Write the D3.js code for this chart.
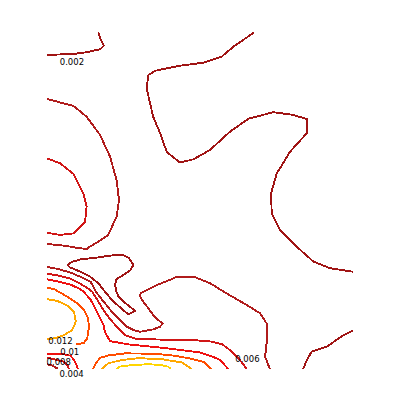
<!DOCTYPE html>
<html>
<head>
<meta charset="utf-8">
<script src="https://cdn.jsdelivr.net/npm/d3@7"></script>
<style>
  html, body { margin: 0; padding: 0; background: #fff; }
  svg { display: block; }
</style>
</head>
<body>
<svg id="chart" width="400" height="400"></svg>
<script>
// ---- Data (contour polylines in data units) ----
const levels = [0.002, 0.004, 0.006, 0.008, 0.010, 0.012, 0.014];
const levelColors = ["#a01414", "#b01c1c", "#d01616", "#ee1010", "#ff4c00", "#ffa800", "#ffd500"];

const lineA = [[17.1,112.2],[17.7,110.2],[19,107.8],[17.7,106.6],[13.2,105.6],[8.8,105],[0,104.7]];
const lineB = [[69.1,112.2],[65.4,109.7],[62.1,107.4],[58.2,104.1],[52.1,102.1],[44.3,101.1],[36,99.4],[33.8,98],[33.2,93.6],[35.4,84.1],[37.7,78.6],[39.9,72.4],[44.3,68.8],[48.8,69.9],[54.3,73],[61,79.1],[67.1,83.4],[75.4,85.6],[82.1,84.7],[86.6,83.3],[86.6,78.6],[81,72.4],[76.6,65.2],[74.7,58.6],[74.9,51.9],[77.7,46.3],[83.2,40.8],[88.8,35.8],[94.3,33.6],[102.1,32.4]];
const lineC = [[0,90],[8.8,87.7],[13.2,84.1],[17.7,78],[21,70.8],[23.2,63],[24,56.3],[23.2,50.8],[20.4,44.7],[17.1,42.4],[14.6,41],[13.2,40],[9.3,40.5],[6.6,41],[0,41.7]];
const lineD = [[0,70.2],[4.3,68.6],[8.8,65],[12.1,58.6],[13.2,54.1],[12.7,49.1],[8.8,45.2],[4.3,44.7],[0,45.4]];
const lineE = [[7.3,34],[7,34.8],[8.4,35.7],[11.2,36.6],[15.7,37],[21,37.8],[25,38.1],[27.3,37],[28.8,34.7],[27.7,32.8],[25.4,31.3],[23.2,30],[22.7,28.3],[23,26.3],[23.7,24.3],[25.7,22.3],[27.7,20.7],[29.3,19.4],[27.1,18.2],[25,20],[21.6,23],[19.3,25.8],[17.1,28.6],[14.3,30.8],[11,32.5],[7.3,34]];
const lineF = [[74.3,0],[72.7,4.1],[73.2,8.6],[73.2,15.2],[71,18.6],[66.6,21.3],[59.9,25.2],[54.3,28.6],[48.8,30.8],[43.2,30.8],[41,29.7],[36.6,28],[33.2,26.3],[31.2,25.2],[31,24.3],[32.1,22.4],[33.8,20.2],[35.4,18],[37.1,16.3],[38.6,15.2],[37.7,14.1],[35.4,13.2],[33.2,12.8],[31,12.4],[28.8,13],[26.6,14.1],[24.3,16.3],[21.7,19],[19,22.3],[16.3,25.7],[14.6,29],[11.2,30.7],[7.9,32.1],[3.4,33.4],[0,34]];
const lineG = [[85.4,0],[86.3,2.3],[88.2,5.8],[93.2,7.4],[98.8,11.3],[102.1,12.8]];
const lineL2 = [[0,31.8],[3.4,31.2],[7.9,30.1],[11.2,28.4],[14,26.6],[15.1,25.7],[17,22.7],[19,19.3],[21,16.7],[22.7,14.7],[26,11.3],[29.9,10],[38.2,9.8],[47.7,9.7],[54.3,9.2],[58.3,8.3],[61,6.3],[64.3,3],[66.6,0]];
const lineL3 = [[0,29.9],[3.4,29.2],[7.9,28.1],[10.7,26.8],[12.3,25.7],[14.6,23],[16.3,19.7],[17.7,17],[18.8,14.7],[19.3,12.4],[21,9.3],[27.1,8.2],[38.2,7.1],[44.9,6.3],[51,5.5],[55,4.2],[57.7,3],[60.4,0]];
const lineL4 = [[0,27],[2.3,26.7],[3.4,26],[6.8,24.1],[10.1,21.9],[12.3,19.7],[13.7,16.9],[14,14.1],[13.4,10.2],[12.3,8.7],[9.7,8.2]];
const lineL5 = [[0,23.3],[3.4,22.7],[6.8,21.1],[9,19.1],[9.6,15.8],[8.4,13],[5.7,11.3],[2.3,10.2],[0,10]];
const lineBL1 = [[0,5],[5.7,4.9],[7.9,4.4],[9,3],[10.1,0.7],[10.3,0]];
const lineBL2 = [[0,3.8],[2.3,3.3],[5.7,2.4],[6.8,1.3],[7.3,0]];
const lineBL3 = [[0,1.6],[1.8,1.1],[3.4,0.2],[3.7,0]];
const lineOR = [[15.3,0],[16.3,2],[17.7,3.7],[20.4,4.5],[26,5.2],[36,5.1],[42.7,4.4],[47.7,3.5],[52.3,2.3],[54.7,0]];
const lineOG = [[18.2,0],[20.4,1.9],[24.9,3],[30.4,3.6],[38.2,3.3],[41,2.8],[44.9,2.2],[48.2,0]];
const lineYL = [[23,0],[24.3,0.8],[28.2,1.3],[33.8,1.6],[38.2,1.3],[40.3,0.8],[41.3,0]];

const contourLevelsOfLines = [0.002, 0.002, 0.004, 0.006, 0.002, 0.004, 0.002, 0.006, 0.008, 0.010, 0.012, 0.008, 0.006, 0.004, 0.010, 0.012, 0.014];
const contourLines = [lineA, lineB, lineC, lineD, lineE, lineF, lineG, lineL2, lineL3, lineL4, lineL5, lineBL1, lineBL2, lineBL3, lineOR, lineOG, lineYL];

const labelTexts = ["0.002", "0.012", "0.01", "0.008", "0.004", "0.006"];
const labelX = [8.3, 4.5, 7.6, 3.9, 8.2, 66.8];
const labelY = [102.3, 9.2, 5.8, 2.4, -1.8, 3.2];

// ---- Drawing ----
const svg = d3.select("#chart");
const x = d3.scaleLinear().domain([0, 102]).range([47, 353]);
const y = d3.scaleLinear().domain([0, 113]).range([369, 30]);
const color = d3.scaleOrdinal().domain(levels).range(levelColors);

svg.append("defs").append("clipPath").attr("id", "plotclip")
  .append("rect")
  .attr("x", x(0)).attr("y", y(112.3))
  .attr("width", x(102) - x(0)).attr("height", y(0) - y(112.3));

const line = d3.line().x(d => x(d[0])).y(d => y(d[1])).curve(d3.curveLinear);

svg.append("g").attr("clip-path", "url(#plotclip)")
  .selectAll("path")
  .data(contourLines.map((pts, i) => ({ pts, level: contourLevelsOfLines[i] })))
  .join("path")
  .attr("d", d => line(d.pts))
  .attr("fill", "none")
  .attr("stroke", d => color(d.level))
  .attr("stroke-width", 1.9)
  .attr("stroke-linejoin", "round")
  .attr("stroke-linecap", "butt")
  .attr("shape-rendering", "crispEdges");

svg.append("g")
  .selectAll("text")
  .data(labelTexts)
  .join("text")
  .attr("x", (d, i) => x(labelX[i]))
  .attr("y", (d, i) => y(labelY[i]))
  .attr("text-anchor", "middle")
  .attr("dominant-baseline", "central")
  .attr("font-family", "'DejaVu Sans', sans-serif")
  .attr("font-size", 8.5)
  .attr("fill", "#000")
  .text(d => d);
</script>
</body>
</html>
